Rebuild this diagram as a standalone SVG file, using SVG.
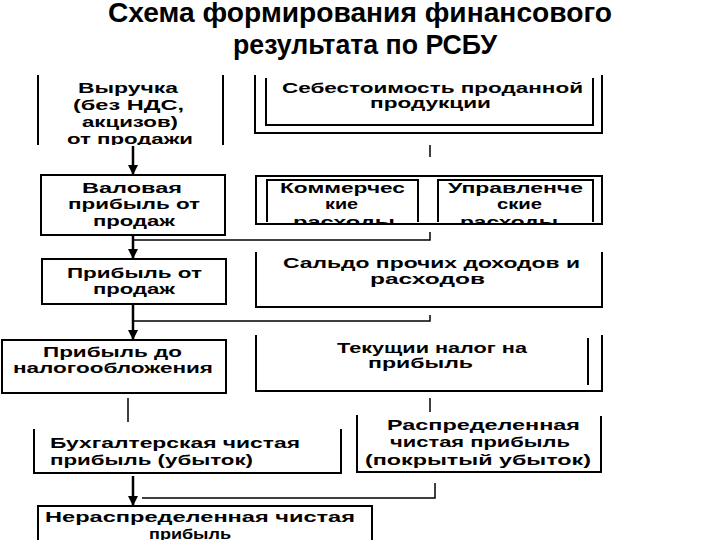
<svg xmlns="http://www.w3.org/2000/svg" width="720" height="540" viewBox="0 0 720 540">
<style>
  .t { font-family: "Liberation Sans", Arial, sans-serif; font-weight: bold; font-size: 14px; fill: #000; }
  .ttl { font-family: "Liberation Sans", Arial, sans-serif; font-weight: bold; font-size: 28px; fill: #000; text-anchor: middle; }
  .c { text-anchor: middle; }
  .b { fill: none; stroke: #000; stroke-width: 2; }
  .k { fill: none; stroke: #000; stroke-width: 1.5; }
  .a { fill: none; stroke: #000; stroke-width: 2.5; marker-end: url(#ah); }
</style>
<defs>
  <marker id="ah" markerUnits="userSpaceOnUse" markerWidth="10" markerHeight="10" viewBox="0 0 10 10" refX="10" refY="5" orient="auto">
    <path d="M0,0 L10,5 L0,10 Z" fill="#000"/>
  </marker>
  <clipPath id="clip1"><rect x="30" y="70" width="200" height="75"/></clipPath>
  <clipPath id="clip4"><rect x="255" y="170" width="350" height="53"/></clipPath>
</defs>
<rect width="720" height="540" fill="#fff"/>

<g id="title">
  <text class="ttl" x="360" y="22" textLength="504" lengthAdjust="spacingAndGlyphs">Схема формирования финансового</text>
  <text class="ttl" x="365" y="54" textLength="264" lengthAdjust="spacingAndGlyphs">результата по РСБУ</text>
</g>

<g id="node-vyruchka">
  <path class="b" d="M38,75 V145 M223,75 V145"/>
  <g clip-path="url(#clip1)">
    <text class="t c" x="128" y="93" textLength="100" lengthAdjust="spacingAndGlyphs">Выручка</text>
    <text class="t c" x="128.5" y="110" textLength="111" lengthAdjust="spacingAndGlyphs">(без НДС,</text>
    <text class="t c" x="130" y="127" textLength="96" lengthAdjust="spacingAndGlyphs">акцизов)</text>
    <text class="t c" x="130" y="144" textLength="126" lengthAdjust="spacingAndGlyphs">от продажи</text>
  </g>
</g>

<g id="node-valovaya">
  <rect class="b" x="41" y="175" width="184" height="60"/>
  <text class="t c" x="132" y="193" textLength="100" lengthAdjust="spacingAndGlyphs">Валовая</text>
  <text class="t c" x="134" y="209" textLength="132" lengthAdjust="spacingAndGlyphs">прибыль от</text>
  <text class="t c" x="134" y="226" textLength="82" lengthAdjust="spacingAndGlyphs">продаж</text>
</g>

<g id="node-sebestoimost">
  <path class="b" d="M255,75 V133 H602 V75"/>
  <path class="b" d="M266,78 V125 H593 V78"/>
  <text class="t c" x="432.5" y="93" textLength="301" lengthAdjust="spacingAndGlyphs">Себестоимость проданной</text>
  <text class="t c" x="430.5" y="108" textLength="121" lengthAdjust="spacingAndGlyphs">продукции</text>
</g>

<g id="node-rashody">
  <rect class="b" x="256" y="176" width="346" height="48"/>
  <path class="b" d="M267,222 V180 H418 V222"/>
  <path class="b" d="M438,222 V180 H593 V222"/>
  <g clip-path="url(#clip4)">
    <text class="t c" x="342.5" y="193" textLength="125" lengthAdjust="spacingAndGlyphs">Коммерчес</text>
    <text class="t c" x="341.5" y="209" textLength="33" lengthAdjust="spacingAndGlyphs">кие</text>
    <text class="t c" x="344" y="227" textLength="102" lengthAdjust="spacingAndGlyphs">расходы</text>
    <text class="t c" x="515.5" y="193" textLength="135" lengthAdjust="spacingAndGlyphs">Управленче</text>
    <text class="t c" x="519.5" y="209" textLength="45" lengthAdjust="spacingAndGlyphs">ские</text>
    <text class="t c" x="509" y="227" textLength="98" lengthAdjust="spacingAndGlyphs">расходы</text>
  </g>
</g>

<g id="node-pribyl-prodazh">
  <rect class="b" x="42" y="259" width="184" height="45"/>
  <text class="t c" x="134.5" y="278" textLength="135" lengthAdjust="spacingAndGlyphs">Прибыль от</text>
  <text class="t c" x="134" y="294" textLength="82" lengthAdjust="spacingAndGlyphs">продаж</text>
</g>

<g id="node-saldo">
  <path class="b" d="M256,252 V307 H602 V252"/>
  <text class="t c" x="431.5" y="268" textLength="297" lengthAdjust="spacingAndGlyphs">Сальдо прочих доходов и</text>
  <text class="t c" x="427.5" y="284" textLength="115" lengthAdjust="spacingAndGlyphs">расходов</text>
</g>

<g id="node-pribyl-do">
  <rect class="b" x="2" y="340" width="224" height="53"/>
  <text class="t c" x="112.5" y="357" textLength="139" lengthAdjust="spacingAndGlyphs">Прибыль до</text>
  <text class="t c" x="113" y="373" textLength="200" lengthAdjust="spacingAndGlyphs">налогообложения</text>
</g>

<g id="node-nalog">
  <path class="b" d="M256,335 V391 H602 V335"/>
  <path class="b" d="M588,338 V385"/>
  <text class="t c" x="432" y="353" textLength="190" lengthAdjust="spacingAndGlyphs">Текущии налог на</text>
  <text class="t c" x="420.5" y="368" textLength="105" lengthAdjust="spacingAndGlyphs">прибыль</text>
</g>

<g id="node-buh">
  <path class="b" d="M34,429 V473 H341 V429"/>
  <text class="t" x="50" y="448" textLength="250" lengthAdjust="spacingAndGlyphs">Бухгалтерская чистая</text>
  <text class="t" x="50" y="465" textLength="203" lengthAdjust="spacingAndGlyphs">прибыль (убыток)</text>
</g>

<g id="node-raspred">
  <path class="b" d="M357,415 V472 H601 V416"/>
  <text class="t c" x="483.5" y="430" textLength="193" lengthAdjust="spacingAndGlyphs">Распределенная</text>
  <text class="t c" x="480" y="447" textLength="180" lengthAdjust="spacingAndGlyphs">чистая прибыль</text>
  <text class="t c" x="478" y="465" textLength="226" lengthAdjust="spacingAndGlyphs">(покрытый убыток)</text>
</g>

<g id="node-neraspred">
  <path class="b" d="M38,542 V506 H372 V542"/>
  <text class="t c" x="200" y="522" textLength="310" lengthAdjust="spacingAndGlyphs">Нераспределенная чистая</text>
  <text class="t c" x="190" y="539" textLength="82" lengthAdjust="spacingAndGlyphs">прибыль</text>
</g>

<g id="connectors">
  <line class="a" x1="133" y1="146" x2="133" y2="175"/>
  <line class="a" x1="133" y1="236" x2="133" y2="259"/>
  <line class="a" x1="133" y1="305" x2="133" y2="340"/>
  <line class="a" x1="133" y1="476" x2="133" y2="506"/>
  <path class="k" d="M430,145 V157"/>
  <path class="k" d="M430,232 V240 H134"/>
  <path class="k" d="M430,315 V321 H134"/>
  <path class="k" d="M430,398 V412"/>
  <path class="k" d="M128,398 V422"/>
  <path class="k" d="M435,483 V498 H142"/>
</g>
</svg>
